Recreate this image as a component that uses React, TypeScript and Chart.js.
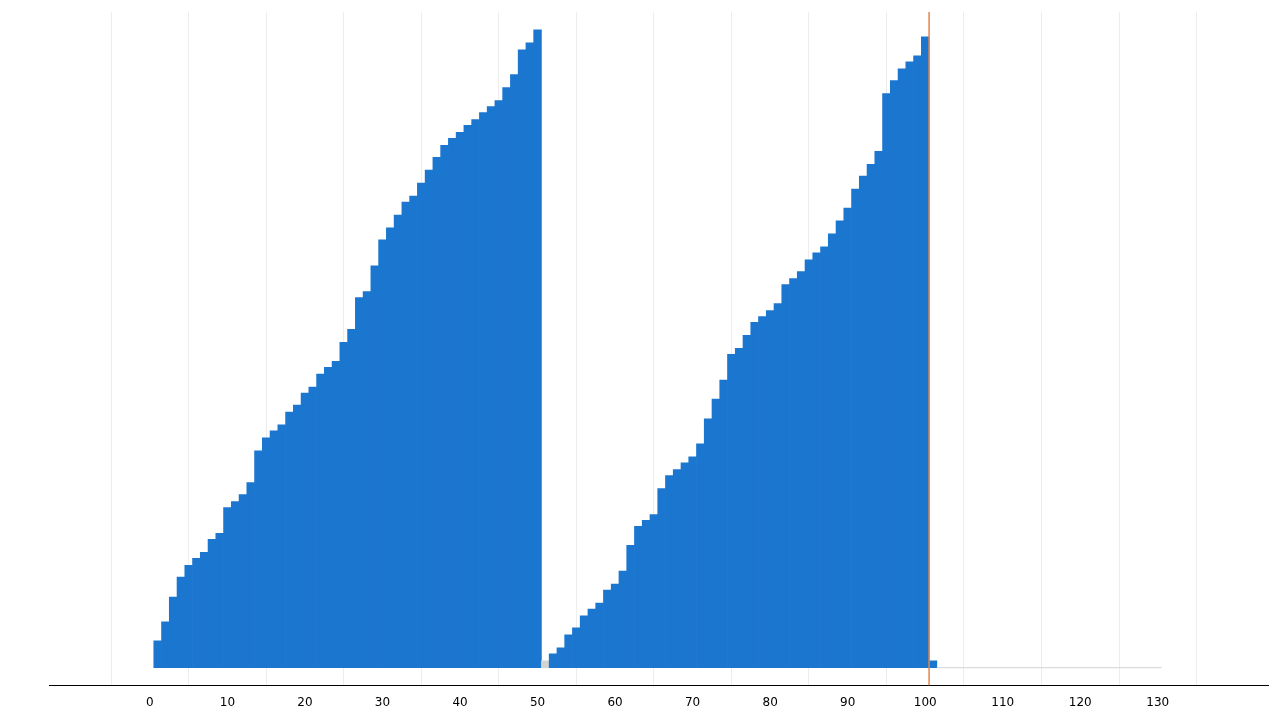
import { useEffect, useRef } from "react";
import Chart from "chart.js/auto";

const xs: number[] = Array.from({ length: 101 }, (_, i) => i + 1);
const firstRun = [27, 46, 71, 91, 103, 110, 116, 129, 135, 161, 167, 174, 186, 218, 231, 238, 244, 257, 264, 276, 282, 295, 302, 308, 327, 340, 372, 378, 404, 430, 442, 455, 468, 474, 487, 500, 513, 525, 532, 538, 545, 551, 558, 564, 570, 583, 596, 621, 628, 641];
const gap = [7];
const secondRun = [14, 20, 33, 40, 52, 59, 65, 78, 84, 97, 123, 142, 148, 154, 180, 193, 199, 206, 212, 225, 250, 270, 289, 315, 321, 334, 347, 353, 359, 366, 385, 391, 398, 410, 417, 423, 436, 449, 462, 481, 494, 506, 519, 577, 590, 602, 609, 615, 634, 7];
const values = [...firstRun, ...gap, ...secondRun];
const xTicks = [0, 10, 20, 30, 40, 50, 60, 70, 80, 90, 100, 110, 120, 130];
const markerX = 100.5;
const tailX = [101.5, 130.5];

export default function App() {
  const ref = useRef<HTMLCanvasElement | null>(null);

  useEffect(() => {
    document.body.style.margin = "0";
    if (!ref.current) return;
    const chart = new Chart(ref.current, {
      type: "bar",
      data: {
        datasets: [
          {
            type: "bar",
            data: xs.map((x, i) => ({ x, y: values[i] })),
            backgroundColor: xs.map((x) => (x === 51 ? "#d3d3d3" : "#1b76cf")),
            borderWidth: 0,
            barPercentage: 1,
            categoryPercentage: 1,
            order: 2,
          },
          {
            type: "line",
            data: tailX.map((x) => ({ x, y: 0 })),
            borderColor: "#d3d3d3",
            borderWidth: 1,
            pointRadius: 0,
            order: 1,
          },
          {
            type: "line",
            data: [{ x: markerX, y: -18 }, { x: markerX, y: 659 }],
            borderColor: "#e8844a",
            borderWidth: 1.5,
            pointRadius: 0,
            order: 0,
          },
        ],
      },
      options: {
        animation: false,
        responsive: false,
        layout: { padding: { left: 49, right: 12, top: 12, bottom: 0 } },
        plugins: { legend: { display: false }, tooltip: { enabled: false } },
        scales: {
          x: {
            type: "linear",
            min: -7.4,
            max: 138.6,
            afterBuildTicks: (axis: any) => {
              axis.ticks = xTicks.map((v) => ({ value: v }));
            },
            grid: { color: "rgba(0,0,0,0.07)", drawTicks: false },
            border: { color: "#000", width: 1 },
            ticks: {
              padding: 10,
              color: "#000",
              font: { family: "DejaVu Sans", size: 12 },
            },
          },
          y: {
            min: -18,
            max: 659,
            display: false,
          },
        },
      },
    });
    return () => chart.destroy();
  }, []);

  return <canvas ref={ref} width={1280} height={720} style={{ display: "block" }} />;
}
